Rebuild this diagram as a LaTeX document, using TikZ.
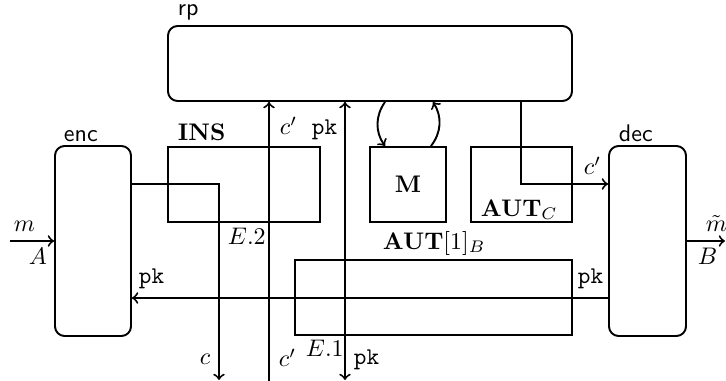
\documentclass[tikz,border=0pt]{standalone}
\usetikzlibrary{fit}
\begin{document}
\begin{tikzpicture}[x=0.4167pt,y=-0.4167pt,
  line width=0.8pt,
  rbox/.style={draw,rounded corners=4pt,inner sep=0pt},
  sbox/.style={draw,inner sep=0pt},
  lbl/.style={inner sep=0pt,anchor=base west}]
\useasboundingbox (0,0) rectangle (726,381);
% boxes
\node[rbox,fit={(168,26) (572,101)}] (rp) {};
\node[rbox,fit={(55,146) (131,336)}] (enc) {};
\node[rbox,fit={(609,146) (686,336)}] (dec) {};
\node[sbox,fit={(168,147) (320,222)}] (ins) {};
\node[sbox,fit={(370,147) (446,222)}] (M) {};
\node[sbox,fit={(471,147) (572,222)}] (autc) {};
\node[sbox,fit={(295,260) (572,335)}] (autb) {};
% box labels
\node[lbl] (lrp) at (177,16) {\textsf{rp}};
\node[lbl] (lenc) at (63,142) {\textsf{enc}};
\node[lbl] (ldec) at (618,142) {\textsf{dec}};
\node[lbl] (lins) at (177,141) {\textbf{INS}};
\node[inner sep=0pt] (lM) at (M.center) {$\mathbf{M}$};
\node[lbl] (lautc) at (480,216) {$\mathbf{AUT}_C$};
\node[lbl] (lautb) at (382,249) {$\mathbf{AUT}[1]_B$};
% free ends
\coordinate (cbot) at (219,380);
\coordinate (cpbot) at (269,381);
\coordinate (pkbot) at (345,380);
\coordinate (min) at (10,241);
\coordinate (mout) at (725,241);
% connectors
\draw[->] (enc.east |- 0,184) -| (cbot);
\draw[->] (cpbot) -- (cpbot |- rp.south);
\draw[<->] (pkbot |- rp.south) -- (pkbot);
\draw[->] (dec.west |- 0,298) -- (enc.east |- 0,298);
\draw[->] (rp.south -| 385,0) to[bend right=35] (M.north -| 385,0);
\draw[->] (M.north -| 431,0) to[bend right=35] (rp.south -| 433,0);
\draw[->] (rp.south -| 521,0) |- (dec.west |- 0,184);
\draw[->] (min) -- (enc.west |- min);
\draw[->] (dec.east |- mout) -- (mout);
% connector labels
\node[lbl] (lc1) at (279,135) {$c'$};
\node[lbl] (lpk1) at (311,135) {\texttt{pk}};
\node[lbl] (le2) at (227,245) {$E.2$};
\node[lbl] (lc) at (199,365) {$c$};
\node[lbl] (lc2) at (278,367) {$c'$};
\node[lbl] (le1) at (305,357) {$E.1$};
\node[lbl] (lpk2) at (353,365) {\texttt{pk}};
\node[lbl] (lpk3) at (138,283) {\texttt{pk}};
\node[lbl] (lpk4) at (577,283) {\texttt{pk}};
\node[lbl] (lc3) at (583,175) {$c'$};
\node[lbl] (lm) at (13,231) {$m$};
\node[lbl] (lA) at (28,265) {$A$};
\node[lbl] (lmt) at (705,232) {$\tilde m$};
\node[lbl] (lB) at (697,265) {$B$};
\end{tikzpicture}
\end{document}
